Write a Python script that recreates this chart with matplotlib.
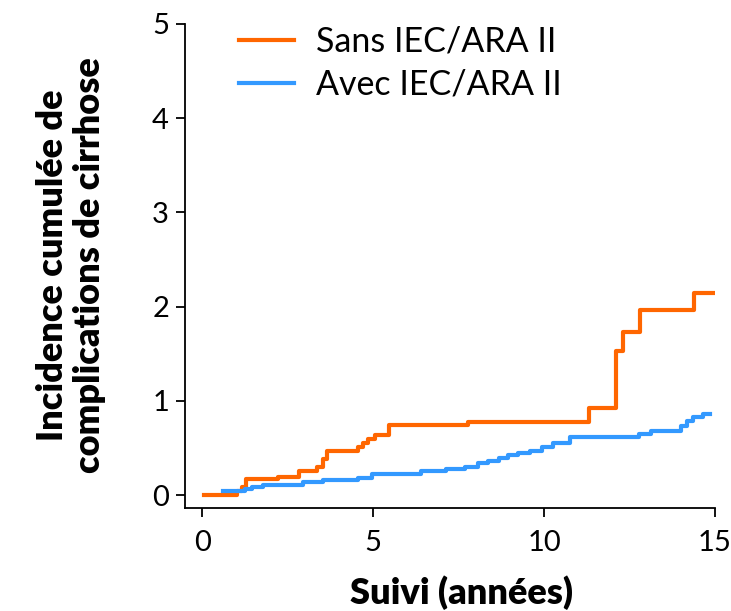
import matplotlib
matplotlib.use("Agg")
import matplotlib.pyplot as plt

# cumulative incidence steps
sans_t = [0.06, 1.01, 1.16, 1.28, 2.22, 2.84, 3.35, 3.55, 3.66, 4.57, 4.70, 4.86,
          5.06, 5.48, 7.78, 11.32, 12.10, 12.32, 12.82, 14.39, 14.93]
sans_v = [0.0, 0.04, 0.09, 0.17, 0.19, 0.26, 0.30, 0.38, 0.47, 0.51, 0.555, 0.59,
          0.64, 0.745, 0.77, 0.92, 1.53, 1.73, 1.96, 2.14, 2.14]

avec_t = [0.62, 1.26, 1.45, 1.77, 2.96, 3.55, 4.57, 4.96, 6.39, 7.13, 7.69, 8.08,
          8.37, 8.67, 8.96, 9.25, 9.59, 9.93, 10.27, 10.76, 12.78, 13.13, 14.0,
          14.17, 14.37, 14.64, 14.85]
avec_v = [0.04, 0.06, 0.08, 0.11, 0.135, 0.16, 0.185, 0.22, 0.26, 0.28, 0.30, 0.34,
          0.36, 0.39, 0.42, 0.45, 0.47, 0.51, 0.55, 0.62, 0.65, 0.68, 0.73,
          0.79, 0.825, 0.86, 0.86]

xticks = [0, 5, 10, 15]
yticks = [0, 1, 2, 3, 4, 5]

plt.rcParams['font.family'] = ['Lato', 'DejaVu Sans']

W, H = 731, 611
fig = plt.figure(figsize=(W / 100, H / 100), dpi=100)
ax = fig.add_axes([185 / W, 1 - 508 / H, (715 - 185) / W, (508 - 24) / H])

ax.plot(sans_t, sans_v, drawstyle='steps-post', color='#FF6600', lw=3,
        label='Sans IEC/ARA II')
ax.plot(avec_t, avec_v, drawstyle='steps-post', color='#3399FF', lw=3,
        label='Avec IEC/ARA II')

ax.set_xlim(-0.5, 15)
ax.set_ylim(-0.138, 5)
ax.set_xticks(xticks)
ax.set_yticks(yticks)
ax.spines['top'].set_visible(False)
ax.spines['right'].set_visible(False)
for s in ('left', 'bottom'):
    ax.spines[s].set_linewidth(1.3)
ax.tick_params(axis='both', labelsize=21, width=1.3, length=6.5)
ax.tick_params(axis='y', pad=5)
ax.tick_params(axis='x', pad=9)

fig.text(462 / W, 1 - 593 / H, 'Suivi (années)', ha='center', va='center',
         fontsize=26, fontweight='heavy')
fig.text(71 / W, 1 - 265 / H, 'Incidence cumulée de\ncomplications de cirrhose',
         ha='center', va='center', rotation=90, fontsize=26, fontweight='heavy',
         linespacing=1.15)

ax.legend(loc='upper left', bbox_to_anchor=(0.045, 1.06), frameon=False,
          fontsize=24.5, handlelength=1.6, handletextpad=0.65, labelspacing=0.32)

fig.savefig('out.png', dpi=100)
